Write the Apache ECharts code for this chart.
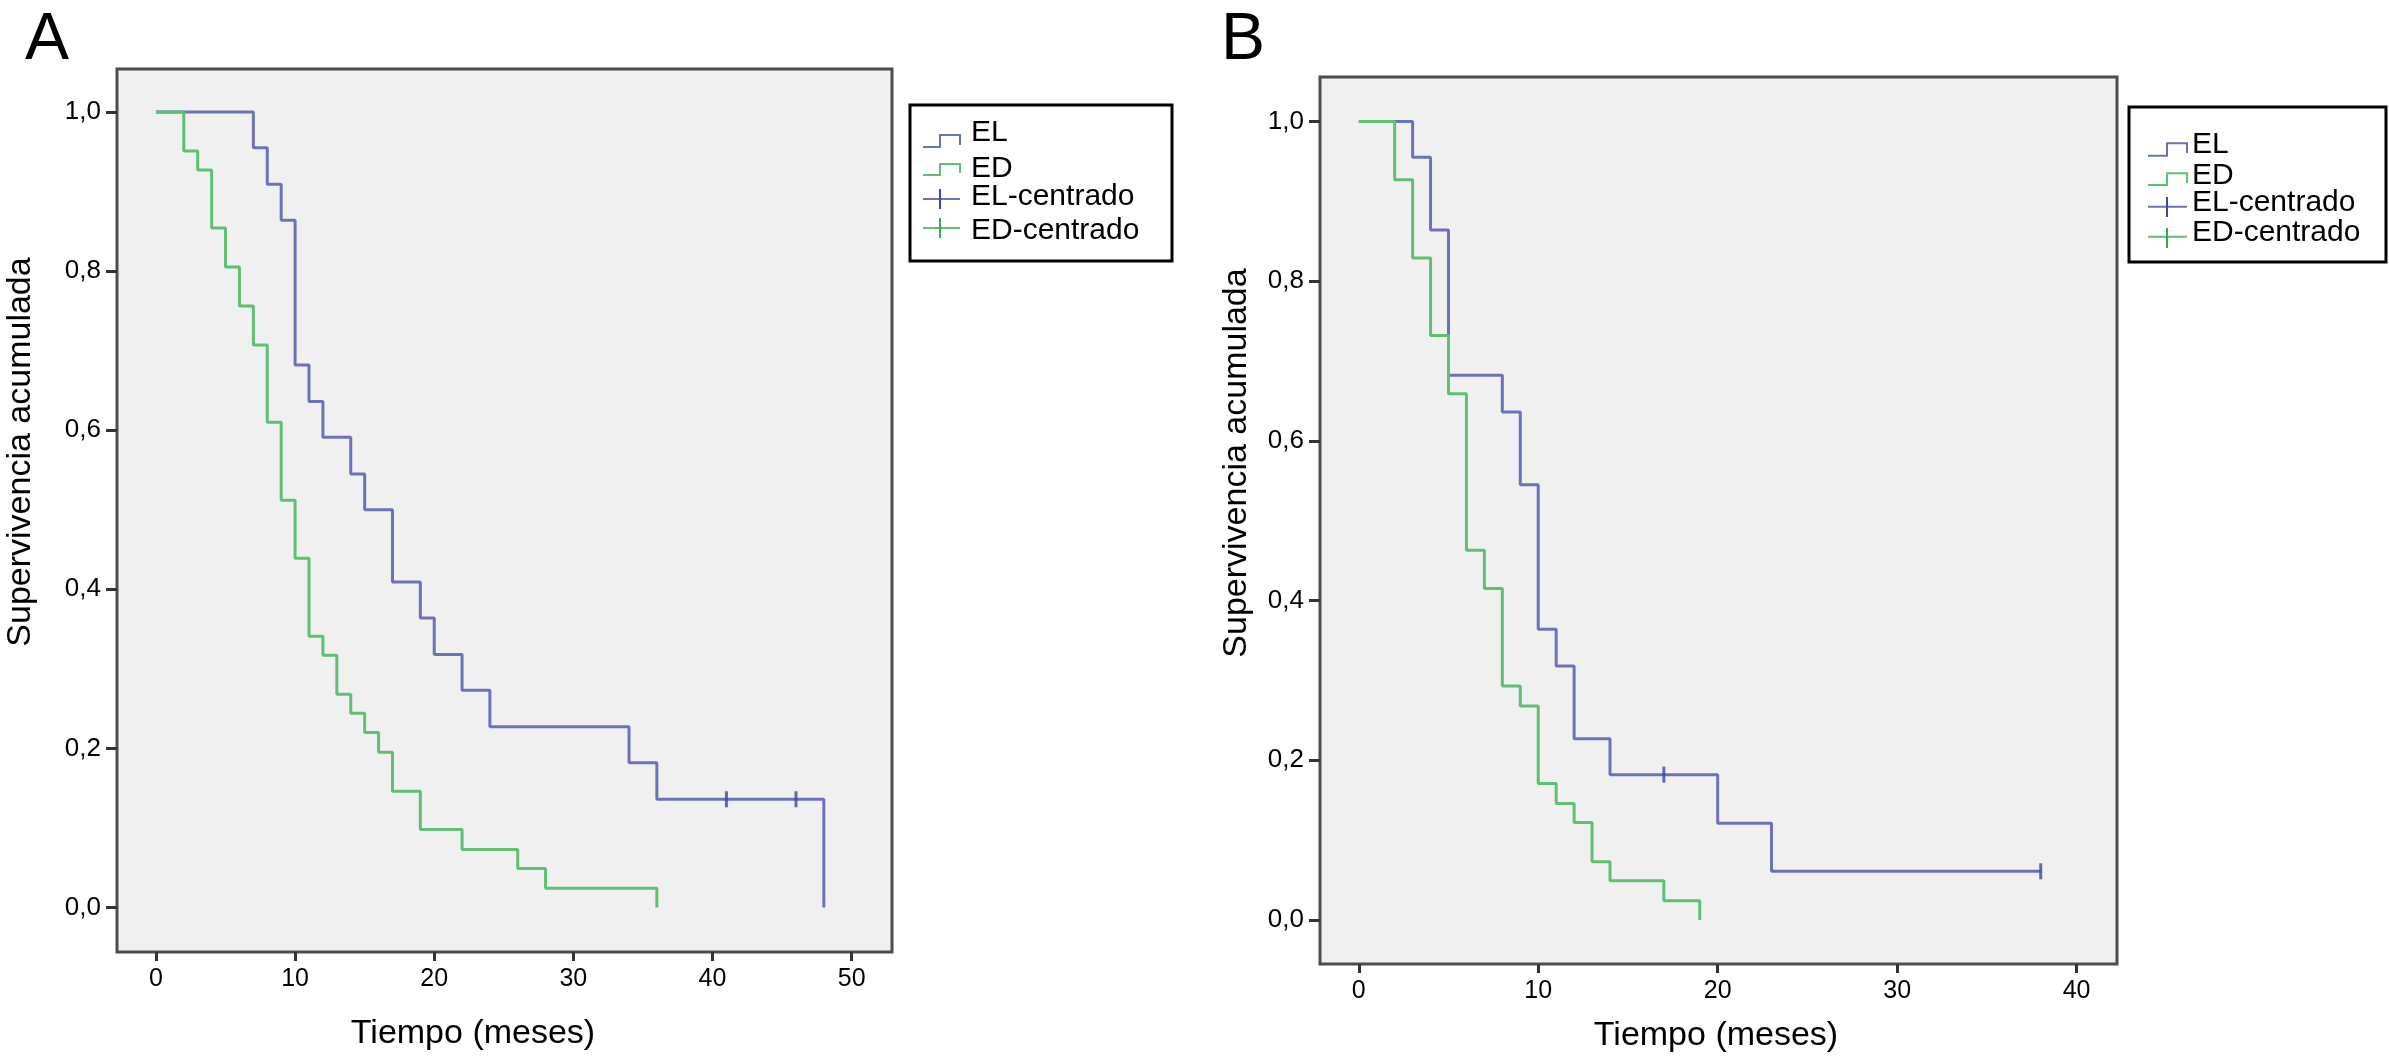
<!DOCTYPE html>
<html>
<head>
<meta charset="utf-8">
<script src="https://cdn.jsdelivr.net/npm/echarts@6/dist/echarts.min.js"></script>
<style>
html,body{margin:0;padding:0;background:#fff;}
#c{width:2389px;height:1056px;}
</style>
</head>
<body>
<div id="c"></div>
<script>
// ---- data ----
const timeTicksA = [0, 10, 20, 30, 40, 50];
const timeTicksB = [0, 10, 20, 30, 40];
const survTicks = [0, 0.2, 0.4, 0.6, 0.8, 1.0];

// Panel A
const elA_t = [0, 7, 8, 9, 10, 11, 12, 14, 15, 17, 19, 20, 22, 24, 34, 36, 48];
const elA_s = [1, 0.955, 0.909, 0.864, 0.682, 0.636, 0.591, 0.545, 0.500, 0.409, 0.364, 0.318, 0.273, 0.227, 0.182, 0.136, 0];
const elA_cens_t = [41, 46];
const elA_cens_s = [0.136, 0.136];
const edA_t = [0, 2, 3, 4, 5, 6, 7, 8, 9, 10, 11, 12, 13, 14, 15, 16, 17, 19, 22, 26, 28, 36];
const edA_s = [1, 0.951, 0.927, 0.854, 0.805, 0.756, 0.707, 0.610, 0.512, 0.439, 0.341, 0.317, 0.268, 0.244, 0.220, 0.195, 0.146, 0.098, 0.073, 0.049, 0.024, 0];

// Panel B
const elB_t = [0, 3, 4, 5, 8, 9, 10, 11, 12, 14, 20, 23, 38];
const elB_s = [1, 0.955, 0.864, 0.682, 0.636, 0.545, 0.364, 0.318, 0.227, 0.182, 0.121, 0.061, 0.061];
const elB_cens_t = [17, 38];
const elB_cens_s = [0.182, 0.061];
const edB_t = [0, 2, 3, 4, 5, 6, 7, 8, 9, 10, 11, 12, 13, 14, 17, 19];
const edB_s = [1, 0.927, 0.829, 0.732, 0.659, 0.463, 0.415, 0.293, 0.268, 0.171, 0.146, 0.122, 0.073, 0.049, 0.024, 0];

const legendNames = ['EL', 'ED', 'EL-centrado', 'ED-centrado'];
const xTitle = 'Tiempo (meses)';
const yTitle = 'Supervivencia acumulada';

// ---- style ----
const FF = "'Liberation Sans', Arial, Helvetica, sans-serif";
const BLUE = '#6a73b8';
const GREEN = '#5fbf74';
const BLUE_C = '#3a47a8';
const GREEN_C = '#3aa852';
const zip = (a, b) => a.map((v, i) => [v, b[i]]);
const fmt = v => v.toFixed(1).replace('.', ',');

function xAxisCfg(grid, min, max, ticks) {
  return {
    type: 'value', gridIndex: grid, min: min, max: max, position: 'bottom',
    axisLine: {show: false, onZero: false}, splitLine: {show: false},
    axisTick: {show: true, inside: false, length: 9, lineStyle: {color: '#333', width: 3}, customValues: ticks},
    axisLabel: {customValues: ticks, margin: 15, fontSize: 25, color: '#000', fontFamily: FF}
  };
}
function yAxisCfg(grid, min, max) {
  return {
    type: 'value', gridIndex: grid, min: min, max: max, position: 'left',
    axisLine: {show: false, onZero: false}, splitLine: {show: false},
    axisTick: {show: true, inside: false, length: 11, lineStyle: {color: '#333', width: 3}, customValues: survTicks},
    axisLabel: {customValues: survTicks, margin: 16, fontSize: 26, color: '#000', fontFamily: FF, formatter: fmt}
  };
}
function stepSeries(name, idx, t, s, color) {
  return {
    name: name, type: 'line', step: 'end', xAxisIndex: idx, yAxisIndex: idx,
    data: zip(t, s), showSymbol: false, symbol: 'none',
    lineStyle: {color: color, width: 3}, itemStyle: {color: color}, z: 3
  };
}
function censSeries(name, idx, t, s, color) {
  return {
    name: name, type: 'scatter', xAxisIndex: idx, yAxisIndex: idx,
    data: zip(t, s), symbol: 'rect', symbolSize: [3, 16],
    itemStyle: {color: color}, z: 4
  };
}

function txt(x, y, text, size, opts) {
  return Object.assign({
    type: 'text', x: x, y: y, silent: true,
    style: {text: text, fontSize: size, fontFamily: FF, fill: '#000',
      textAlign: (opts && opts.align) || 'center', textVerticalAlign: 'middle'}
  }, opts && opts.rotation ? {rotation: opts.rotation} : {});
}
function line(points, color, w) {
  return {type: 'polyline', silent: true, shape: {points: points},
    style: {stroke: color, lineWidth: w || 2, fill: null}};
}
function legendGraphic(L) {
  const els = [];
  els.push({type: 'rect', silent: true, shape: {x: L.box[0], y: L.box[1], width: L.box[2], height: L.box[3]},
    style: {fill: '#fff', stroke: '#000', lineWidth: 3}});
  const colors = [BLUE, GREEN, BLUE_C, GREEN_C];
  L.rows.forEach((r, i) => {
    if (i < 2) {
      els.push(line([[L.ix[0], r.b], [L.ix[1], r.b], [L.ix[1], r.t], [L.ix[2], r.t], [L.ix[2], r.e]], colors[i], 2));
    } else {
      els.push(line([[L.ix[0], r.h], [L.ix[2], r.h]], i === 2 ? BLUE : GREEN, 2));
      els.push(line([[L.ix[1], r.v0], [L.ix[1], r.v1]], colors[i], 2));
    }
    els.push(txt(L.tx, r.c, legendNames[i], 30, {align: 'left'}));
  });
  return els;
}

const legendA = {
  box: [910, 105, 262, 156], ix: [923, 940, 960], tx: 971,
  rows: [{b: 147, t: 135, e: 145, c: 132.5}, {b: 175, t: 164, e: 173, c: 168.8},
         {h: 199, v0: 189, v1: 209, c: 196.7}, {h: 228, v0: 218, v1: 238, c: 230.5}]
};
const legendB = {
  box: [2129, 107, 257, 155], ix: [2148, 2167, 2187], tx: 2192,
  rows: [{b: 155.7, t: 143.3, e: 153, c: 145}, {b: 185, t: 173.3, e: 183, c: 175.8},
         {h: 206.7, v0: 197, v1: 217, c: 202.5}, {h: 236.7, v0: 228, v1: 248, c: 232.5}]
};

const chart = echarts.init(document.getElementById('c'), null, {renderer: 'canvas'});
chart.setOption({
  animation: false,
  backgroundColor: '#fff',
  grid: [
    {left: 117, top: 69, width: 775, height: 883, show: true, backgroundColor: '#f0f0f0', borderColor: '#4d4d4d', borderWidth: 3},
    {left: 1320, top: 77, width: 797, height: 887, show: true, backgroundColor: '#f0f0f0', borderColor: '#4d4d4d', borderWidth: 3}
  ],
  xAxis: [xAxisCfg(0, -2.8, 52.9, timeTicksA), xAxisCfg(1, -2.16, 42.25, timeTicksB)],
  yAxis: [yAxisCfg(0, -0.056, 1.054), yAxisCfg(1, -0.0551, 1.0556)],
  series: [
    stepSeries('EL', 0, elA_t, elA_s, BLUE),
    stepSeries('ED', 0, edA_t, edA_s, GREEN),
    censSeries('EL-centrado', 0, elA_cens_t, elA_cens_s, BLUE_C),
    stepSeries('EL', 1, elB_t, elB_s, BLUE),
    stepSeries('ED', 1, edB_t, edB_s, GREEN),
    censSeries('EL-centrado', 1, elB_cens_t, elB_cens_s, BLUE_C)
  ],
  graphic: [].concat(
    [
      txt(25, 41, 'A', 66, {align: 'left'}),
      txt(1221, 41, 'B', 66, {align: 'left'}),
      txt(473, 1034, xTitle, 34),
      txt(1716, 1036, xTitle, 34),
      txt(21, 452, yTitle, 34, {rotation: Math.PI / 2}),
      txt(1237, 463, yTitle, 34, {rotation: Math.PI / 2})
    ],
    legendGraphic(legendA),
    legendGraphic(legendB)
  )
});
</script>
</body>
</html>
